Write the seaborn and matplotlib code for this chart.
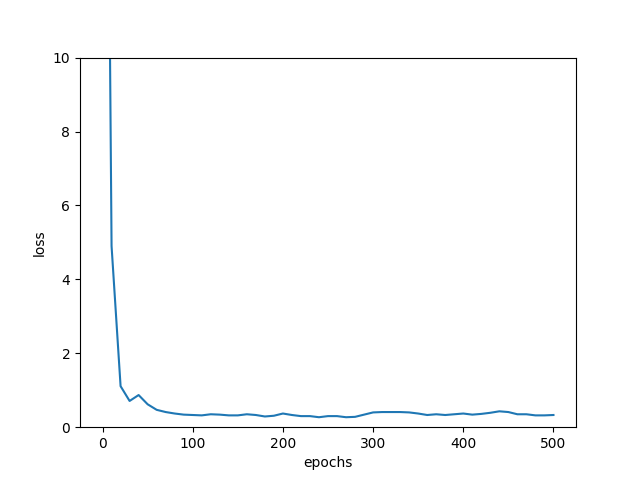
import matplotlib

matplotlib.use("Agg")

import matplotlib.pyplot as plt
import numpy as np
import pandas as pd
import seaborn as sns

epochs = list(range(0, 501, 10))
loss = [
    35.0, 4.9, 1.11, 0.71, 0.87, 0.62, 0.47, 0.41, 0.37, 0.34,
    0.33, 0.32, 0.35, 0.34, 0.32, 0.32, 0.35, 0.33, 0.29, 0.31,
    0.37, 0.33, 0.30, 0.30, 0.27, 0.30, 0.30, 0.27, 0.28, 0.34,
    0.40, 0.41, 0.41, 0.41, 0.40, 0.37, 0.33, 0.35, 0.33, 0.35,
    0.37, 0.34, 0.36, 0.39, 0.43, 0.41, 0.35, 0.35, 0.32, 0.32,
    0.33,
]

df = pd.DataFrame({"epochs": epochs, "loss": loss})

fig, ax = plt.subplots(figsize=(6.4, 4.8), dpi=100)
sns.lineplot(data=df, x="epochs", y="loss", ax=ax, color="#1f77b4", linewidth=1.5)
ax.set_ylim(0, 10)
ax.set_xlabel("epochs")
ax.set_ylabel("loss")
fig.savefig("out.png", dpi=100)
